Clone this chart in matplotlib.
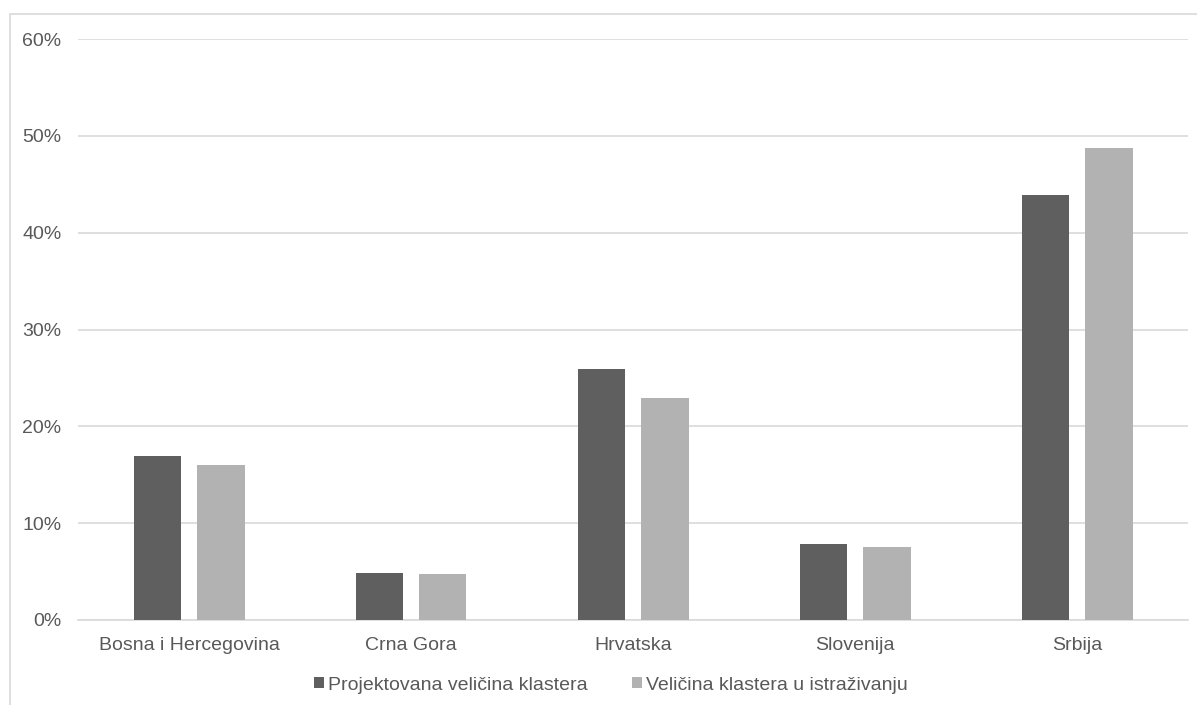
import matplotlib.pyplot as plt
from matplotlib.patches import Rectangle
import numpy as np

# podaci
zemlje = ['Bosna i Hercegovina', 'Crna Gora', 'Hrvatska', 'Slovenija', 'Srbija']
projektovana = [0.169, 0.049, 0.259, 0.079, 0.439]
istrazivanje = [0.160, 0.047, 0.229, 0.075, 0.487]
serije = ['Projektovana veličina klastera', 'Veličina klastera u istraživanju']
boje = ['#5f5f5f', '#b2b2b2']

plt.rcParams['font.family'] = ['Liberation Sans', 'DejaVu Sans']

fig = plt.figure(figsize=(11.97, 7.05), dpi=100)
# okvir grafikona
fig.patches.append(Rectangle((10 / 1197, -0.1), 1.2, 1 - 14 / 705 + 0.1,
                             transform=fig.transFigure, fill=False,
                             edgecolor='#d9d9d9', linewidth=1.2))

ax = fig.add_axes([78 / 1197, 1 - 620 / 705, 1110 / 1197, 581 / 705])
x = np.arange(len(zemlje))
sirina = 0.216
ax.bar(x - 0.142, projektovana, sirina, color=boje[0], label=serije[0], zorder=3)
ax.bar(x + 0.142, istrazivanje, sirina, color=boje[1], label=serije[1], zorder=3)

ax.set_xlim(-0.5, 4.5)
ax.set_ylim(0, 0.6)
ax.set_yticks(np.arange(0, 0.61, 0.1))
ax.set_yticklabels([f'{int(round(v * 100))}%' for v in np.arange(0, 0.61, 0.1)])
ax.set_xticks(x)
ax.set_xticklabels(zemlje)
ax.tick_params(axis='both', length=0, labelsize=14, colors='#595959')
ax.tick_params(axis='y', pad=12)
ax.tick_params(axis='x', pad=12.5)
ax.grid(axis='y', color='#d9d9d9', linewidth=1.2, zorder=0)
for s in ['top', 'right', 'left']:
    ax.spines[s].set_visible(False)
ax.spines['bottom'].set_color('#d9d9d9')
ax.spines['bottom'].set_linewidth(1.2)

leg = fig.legend(loc='center', bbox_to_anchor=(611 / 1197, 1 - 685 / 705), ncol=2,
                 frameon=False, fontsize=14, handlelength=0.5, handleheight=0.5,
                 handletextpad=0.22, columnspacing=2.3)
for t in leg.get_texts():
    t.set_color('#595959')

fig.savefig('out.png', dpi=100)
